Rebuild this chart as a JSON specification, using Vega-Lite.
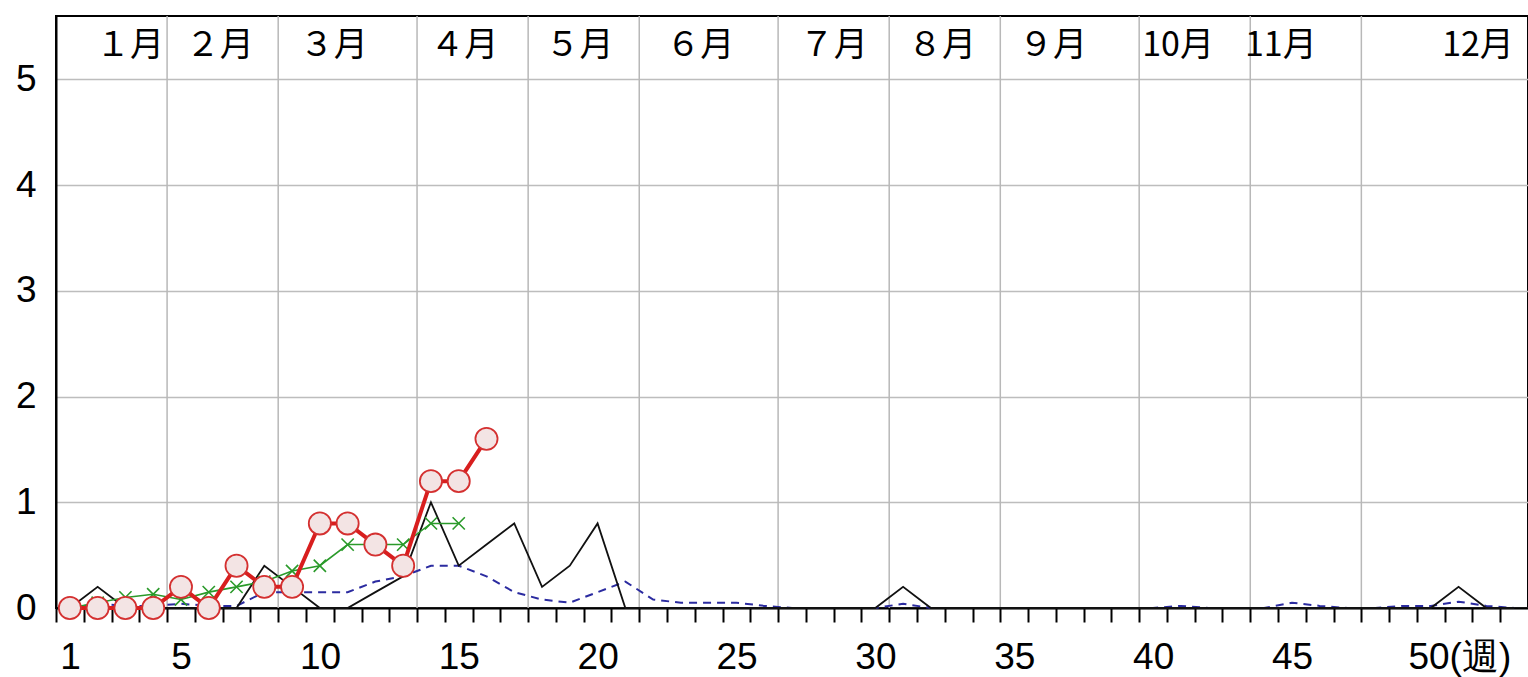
{
  "$schema": "https://vega.github.io/schema/vega-lite/v6.json",
  "width": 1472,
  "height": 592,
  "autosize": {"type": "none"},
  "padding": {"left": 56, "top": 16, "right": 0, "bottom": 69},
  "background": "white",
  "config": {
    "view": {"stroke": "black", "strokeWidth": 2},
    "axis": {"labelFont": "Liberation Sans", "labelColor": "black", "labelFontSize": 37, "title": null},
    "axisX": {"labelOverlap": false, "labelFlush": false, "labelBound": false}
  },
  "datasets": {
    "current": [
      {"week": 1, "value": 0}, {"week": 2, "value": 0}, {"week": 3, "value": 0}, {"week": 4, "value": 0},
      {"week": 5, "value": 0.2}, {"week": 6, "value": 0}, {"week": 7, "value": 0.4}, {"week": 8, "value": 0.2},
      {"week": 9, "value": 0.2}, {"week": 10, "value": 0.8}, {"week": 11, "value": 0.8}, {"week": 12, "value": 0.6},
      {"week": 13, "value": 0.4}, {"week": 14, "value": 1.2}, {"week": 15, "value": 1.2}, {"week": 16, "value": 1.6}
    ],
    "green": [
      {"week": 1, "value": 0}, {"week": 2, "value": 0.05}, {"week": 3, "value": 0.1}, {"week": 4, "value": 0.13},
      {"week": 5, "value": 0.08}, {"week": 6, "value": 0.15}, {"week": 7, "value": 0.2}, {"week": 8, "value": 0.25},
      {"week": 9, "value": 0.35}, {"week": 10, "value": 0.4}, {"week": 11, "value": 0.6}, {"week": 12, "value": 0.6},
      {"week": 13, "value": 0.6}, {"week": 14, "value": 0.8}, {"week": 15, "value": 0.8}
    ],
    "black": [
      {"week": 1, "value": 0}, {"week": 2, "value": 0.2}, {"week": 3, "value": 0}, {"week": 4, "value": 0},
      {"week": 5, "value": 0}, {"week": 6, "value": 0}, {"week": 7, "value": 0}, {"week": 8, "value": 0.4},
      {"week": 9, "value": 0.2}, {"week": 10, "value": 0}, {"week": 11, "value": 0}, {"week": 12, "value": 0.15},
      {"week": 13, "value": 0.3}, {"week": 14, "value": 1.0}, {"week": 15, "value": 0.4}, {"week": 16, "value": 0.6},
      {"week": 17, "value": 0.8}, {"week": 18, "value": 0.2}, {"week": 19, "value": 0.4}, {"week": 20, "value": 0.8},
      {"week": 21, "value": 0}, {"week": 22, "value": 0}, {"week": 23, "value": 0}, {"week": 24, "value": 0},
      {"week": 25, "value": 0}, {"week": 26, "value": 0}, {"week": 27, "value": 0}, {"week": 28, "value": 0},
      {"week": 29, "value": 0}, {"week": 30, "value": 0}, {"week": 31, "value": 0.2}, {"week": 32, "value": 0},
      {"week": 33, "value": 0}, {"week": 34, "value": 0}, {"week": 35, "value": 0}, {"week": 36, "value": 0},
      {"week": 37, "value": 0}, {"week": 38, "value": 0}, {"week": 39, "value": 0}, {"week": 40, "value": 0},
      {"week": 41, "value": 0}, {"week": 42, "value": 0}, {"week": 43, "value": 0}, {"week": 44, "value": 0},
      {"week": 45, "value": 0}, {"week": 46, "value": 0}, {"week": 47, "value": 0}, {"week": 48, "value": 0},
      {"week": 49, "value": 0}, {"week": 50, "value": 0}, {"week": 51, "value": 0.2}, {"week": 52, "value": 0},
      {"week": 53, "value": 0}
    ],
    "avg": [
      {"week": 1, "value": 0}, {"week": 2, "value": 0.04}, {"week": 3, "value": 0.02}, {"week": 4, "value": 0.02},
      {"week": 5, "value": 0.04}, {"week": 6, "value": 0.02}, {"week": 7, "value": 0.02}, {"week": 8, "value": 0.15},
      {"week": 9, "value": 0.15}, {"week": 10, "value": 0.15}, {"week": 11, "value": 0.15}, {"week": 12, "value": 0.25},
      {"week": 13, "value": 0.3}, {"week": 14, "value": 0.4}, {"week": 15, "value": 0.4}, {"week": 16, "value": 0.3},
      {"week": 17, "value": 0.15}, {"week": 18, "value": 0.08}, {"week": 19, "value": 0.05}, {"week": 20, "value": 0.15},
      {"week": 21, "value": 0.25}, {"week": 22, "value": 0.08}, {"week": 23, "value": 0.05}, {"week": 24, "value": 0.05},
      {"week": 25, "value": 0.05}, {"week": 26, "value": 0.02}, {"week": 27, "value": 0}, {"week": 28, "value": 0},
      {"week": 29, "value": 0}, {"week": 30, "value": 0}, {"week": 31, "value": 0.04}, {"week": 32, "value": 0},
      {"week": 33, "value": 0}, {"week": 34, "value": 0}, {"week": 35, "value": 0}, {"week": 36, "value": 0},
      {"week": 37, "value": 0}, {"week": 38, "value": 0}, {"week": 39, "value": 0}, {"week": 40, "value": 0},
      {"week": 41, "value": 0.02}, {"week": 42, "value": 0}, {"week": 43, "value": 0}, {"week": 44, "value": 0},
      {"week": 45, "value": 0.05}, {"week": 46, "value": 0.02}, {"week": 47, "value": 0}, {"week": 48, "value": 0},
      {"week": 49, "value": 0.02}, {"week": 50, "value": 0.02}, {"week": 51, "value": 0.06}, {"week": 52, "value": 0.02},
      {"week": 53, "value": 0}
    ],
    "months": [
      {"label": "１月", "week": 3.16}, {"label": "２月", "week": 6.4}, {"label": "３月", "week": 10.5},
      {"label": "４月", "week": 15.2}, {"label": "５月", "week": 19.35}, {"label": "６月", "week": 23.7},
      {"label": "７月", "week": 28.5}, {"label": "８月", "week": 32.4}, {"label": "９月", "week": 36.4},
      {"label": "10月", "week": 40.9}, {"label": "11月", "week": 44.6}, {"label": "12月", "week": 51.7}
    ],
    "bounds": [
      {"week": 4.5}, {"week": 8.5}, {"week": 13.5}, {"week": 17.5}, {"week": 21.5}, {"week": 26.5},
      {"week": 30.5}, {"week": 34.5}, {"week": 39.5}, {"week": 43.5}, {"week": 47.5}
    ]
  },
  "encoding": {
    "x": {
      "field": "week", "type": "quantitative",
      "scale": {"domain": [0.5, 53.5], "nice": false, "zero": false},
      "axis": {
        "values": [0.5,1.5,2.5,3.5,4.5,5.5,6.5,7.5,8.5,9.5,10.5,11.5,12.5,13.5,14.5,15.5,16.5,17.5,18.5,19.5,20.5,21.5,22.5,23.5,24.5,25.5,26.5,27.5,28.5,29.5,30.5,31.5,32.5,33.5,34.5,35.5,36.5,37.5,38.5,39.5,40.5,41.5,42.5,43.5,44.5,45.5,46.5,47.5,48.5,49.5,50.5,51.5,52.5],
        "labelExpr": "datum.value == 0.5 ? '1' : (datum.value == 49.5 ? '50(週)' : ((datum.value + 0.5) % 5 == 0 ? '' + (datum.value + 0.5) : ''))",
        "grid": false,
        "domainColor": "black", "domainWidth": 2,
        "tickColor": "black", "tickWidth": 2, "tickSize": 14,
        "labelPadding": 17, "labelFlush": false, "labelOverlap": false, "labelBound": false,
        "labelAlign": {"condition": {"test": "datum.value == 49.5", "value": "left"}, "value": "center"},
        "labelOffset": {"condition": {"test": "datum.value == 49.5", "value": -9}, "value": 14}
      }
    }
  },
  "layer": [
    {
      "data": {"name": "bounds"},
      "mark": {"type": "rule", "color": "#b8b8b8", "strokeWidth": 1.5}
    },
    {
      "data": {"name": "avg"},
      "mark": {"type": "line", "color": "#2b2ba0", "strokeWidth": 2, "strokeDash": [8, 6]},
      "encoding": {
        "y": {
          "field": "value", "type": "quantitative",
          "scale": {"domain": [0, 5.6], "nice": false, "zero": true},
          "axis": {
            "values": [0, 1, 2, 3, 4, 5],
            "format": "d",
            "grid": true, "gridColor": "#bdbdbd", "gridWidth": 1.5,
            "ticks": false, "tickSize": 0,
            "domainColor": "black", "domainWidth": 2,
            "labelPadding": 20
          }
        }
      }
    },
    {
      "data": {"name": "black"},
      "mark": {"type": "line", "color": "#111111", "strokeWidth": 1.8},
      "encoding": {"y": {"field": "value", "type": "quantitative"}}
    },
    {
      "data": {"name": "green"},
      "mark": {"type": "line", "color": "#2a9a2a", "strokeWidth": 1.6},
      "encoding": {"y": {"field": "value", "type": "quantitative"}}
    },
    {
      "data": {"name": "green"},
      "mark": {"type": "point", "shape": "M-1,-1L1,1M-1,1L1,-1", "filled": false, "stroke": "#2a9a2a", "strokeWidth": 1.6, "size": 150, "opacity": 1},
      "encoding": {"y": {"field": "value", "type": "quantitative"}}
    },
    {
      "data": {"name": "current"},
      "mark": {"type": "line", "color": "#d81e1e", "strokeWidth": 4},
      "encoding": {"y": {"field": "value", "type": "quantitative"}}
    },
    {
      "data": {"name": "current"},
      "mark": {"type": "point", "shape": "circle", "filled": true, "fill": "#f3e4e4", "stroke": "#d43030", "strokeWidth": 1.8, "size": 490, "opacity": 1},
      "encoding": {"y": {"field": "value", "type": "quantitative"}}
    },
    {
      "data": {"name": "months"},
      "mark": {"type": "text", "font": "Noto Sans CJK JP", "fontSize": 34, "color": "black", "baseline": "middle", "align": "center"},
      "encoding": {
        "y": {"datum": 5.32, "type": "quantitative"},
        "text": {"field": "label"}
      }
    }
  ]
}
